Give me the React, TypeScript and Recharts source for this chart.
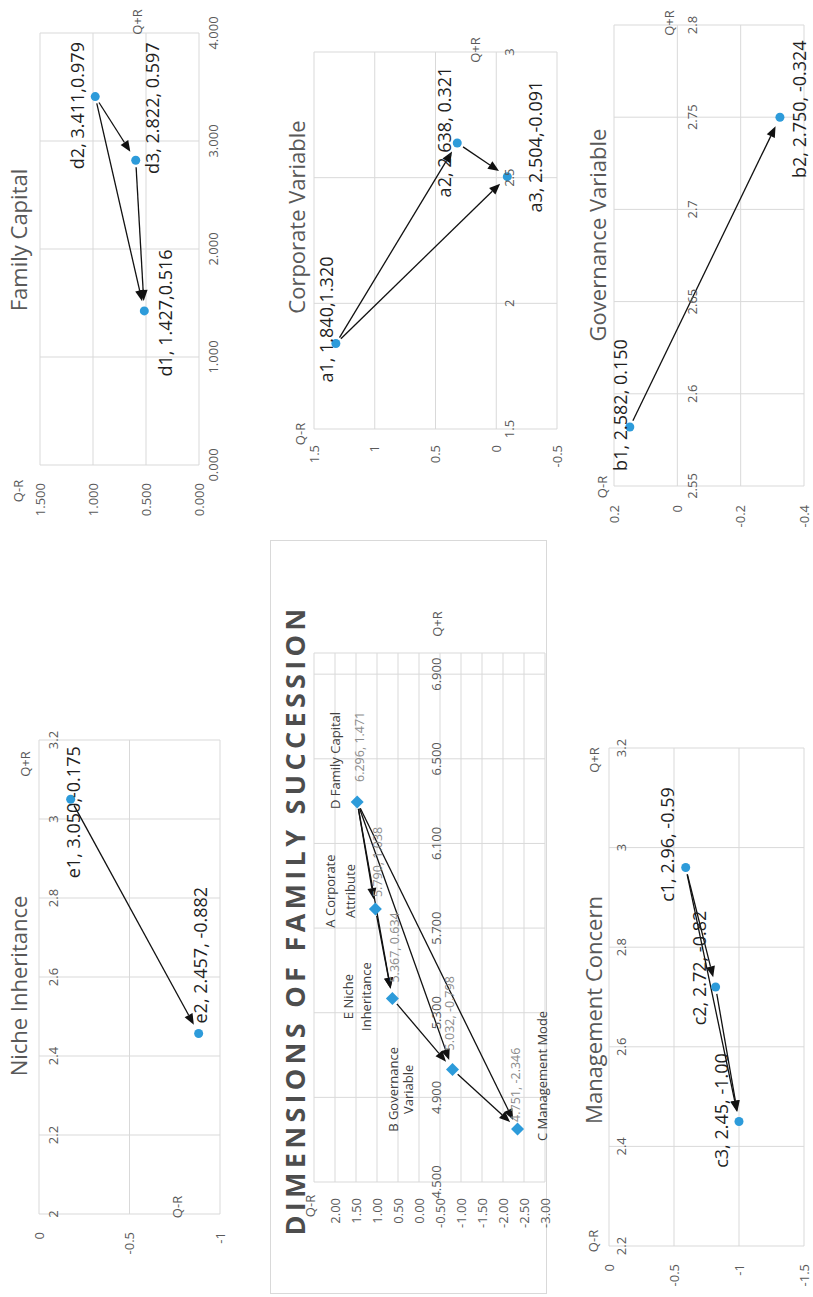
import React from "react";
import { ScatterChart, Scatter, XAxis, YAxis, CartesianGrid, ReferenceLine, ReferenceDot } from "recharts";

const BLUE = "#2D9BDA";
const GRID = "#D9D9D9";
const GREY = "#595959";
const FONT = "'Open Sans', 'Liberation Sans', sans-serif";

// ---- data ----
const nicheNames = ["e1", "e2"];
const nicheQplusR = [3.05, 2.457];
const nicheQminusR = [-0.175, -0.882];
const nicheLabels = ["e1, 3.050,-0.175", "e2, 2.457, -0.882"];
const nicheArrows = [["e1", "e2"]];
const nicheXTicks = [2, 2.2, 2.4, 2.6, 2.8, 3, 3.2];
const nicheYTicks = [-1, -0.5, 0];

const familyNames = ["d1", "d2", "d3"];
const familyQplusR = [1.427, 3.411, 2.822];
const familyQminusR = [0.516, 0.979, 0.597];
const familyLabels = ["d1, 1.427,0.516", "d2, 3.411,0.979", "d3, 2.822, 0.597"];
const familyArrows = [["d2", "d3"], ["d2", "d1"], ["d3", "d1"]];
const familyXTicks = [0, 1, 2, 3, 4];
const familyYTicks = [0, 0.5, 1, 1.5];

const corpNames = ["a1", "a2", "a3"];
const corpQplusR = [1.84, 2.638, 2.504];
const corpQminusR = [1.32, 0.321, -0.091];
const corpLabels = ["a1, 1.840,1.320", "a2, 2.638, 0.321", "a3, 2.504,-0.091"];
const corpArrows = [["a1", "a2"], ["a1", "a3"], ["a2", "a3"]];
const corpXTicks = [1.5, 2, 2.5, 3];
const corpYTicks = [-0.5, 0, 0.5, 1, 1.5];

const govNames = ["b1", "b2"];
const govQplusR = [2.582, 2.75];
const govQminusR = [0.15, -0.324];
const govLabels = ["b1, 2.582, 0.150", "b2, 2.750, -0.324"];
const govArrows = [["b1", "b2"]];
const govXTicks = [2.55, 2.6, 2.65, 2.7, 2.75, 2.8];
const govYTicks = [-0.4, -0.2, 0, 0.2];

const mgmtNames = ["c1", "c2", "c3"];
const mgmtQplusR = [2.96, 2.72, 2.45];
const mgmtQminusR = [-0.59, -0.82, -1.0];
const mgmtLabels = ["c1, 2.96, -0.59", "c2, 2.72, -0.82", "c3, 2.45, -1.00"];
const mgmtArrows = [["c1", "c2"], ["c1", "c3"], ["c2", "c3"]];
const mgmtXTicks = [2.2, 2.4, 2.6, 2.8, 3, 3.2];
const mgmtYTicks = [-1.5, -1, -0.5, 0];

const dimNames = ["D", "A", "E", "B", "C"];
const dimCategories = ["D Family Capital", "A Corporate Attribute", "E Niche Inheritance", "B Governance Variable", "C Management Mode"];
const dimQplusR = [6.296, 5.79, 5.367, 5.032, 4.751];
const dimQminusR = [1.471, 1.038, 0.634, -0.798, -2.346];
const dimLabels = ["6.296, 1.471", "5.790, 1.038", "5.367, 0.634", "5.032, -0.798", "4.751, -2.346"];
const dimArrows = [["D", "A"], ["D", "E"], ["D", "B"], ["D", "C"], ["A", "E"], ["E", "B"], ["B", "C"]];
const dimXTicks = [4.5, 4.9, 5.3, 5.7, 6.1, 6.5, 6.9];
const dimYTicks = [-3, -2.5, -2, -1.5, -1, -0.5, 0, 0.5, 1, 1.5, 2];

type Pt = { name: string; x: number; y: number; label: string; cat?: string };

const toPoints = (names: string[], xs: number[], ys: number[], labels: string[], cats?: string[]): Pt[] =>
  names.map((n, i) => ({ name: n, x: xs[i], y: ys[i], label: labels[i], cat: cats ? cats[i] : undefined }));

// ---- label placement (pixels relative to the point) ----
type Pos = { dx: number; dy: number; anchor: "start" | "middle" | "end" };
const labelPos: Record<string, Pos> = {
  e1: { dx: -13, dy: 2, anchor: "middle" },
  e2: { dx: 10, dy: 1, anchor: "start" },
  d1: { dx: -2, dy: 21, anchor: "middle" },
  d2: { dx: -9, dy: -18, anchor: "middle" },
  d3: { dx: 52, dy: 16, anchor: "middle" },
  a1: { dx: 24, dy: -10, anchor: "middle" },
  a2: { dx: 11, dy: -13, anchor: "middle" },
  a3: { dx: 30, dy: 28, anchor: "middle" },
  b1: { dx: 22, dy: -10, anchor: "middle" },
  b2: { dx: 8, dy: 19, anchor: "middle" },
  c1: { dx: 23, dy: -19, anchor: "middle" },
  c2: { dx: 19, dy: -17, anchor: "middle" },
  c3: { dx: 11, dy: -18, anchor: "middle" },
};

const dimCatPos: Record<string, { lines: string[]; dx: number; dys: number[]; anchor: "start" | "middle" }> = {
  D: { lines: ["D Family Capital"], dx: -7, dys: [-22], anchor: "start" },
  A: { lines: ["A Corporate", "Attribute"], dx: 18, dys: [-45, -25], anchor: "middle" },
  E: { lines: ["E Niche", "Inheritance"], dx: 2, dys: [-44, -26], anchor: "middle" },
  B: { lines: ["B Governance", "Variable"], dx: -20, dys: [-60, -45], anchor: "middle" },
  C: { lines: ["C Management Mode"], dx: 53, dys: [24], anchor: "middle" },
};
const dimValPos: Record<string, { dx: number; dy: number }> = {
  D: { dx: 20, dy: 2 },
  A: { dx: 12, dy: 2 },
  E: { dx: 16, dy: 2 },
  B: { dx: 19, dy: -3 },
  C: { dx: 7, dy: -2 },
};

const fmt = (v: number, d: number | null) => (d == null ? String(v) : v.toFixed(d));

function arrowShape(p: any) {
  const x1 = Number(p.x1), y1 = Number(p.y1), x2 = Number(p.x2), y2 = Number(p.y2);
  const len = Math.hypot(x2 - x1, y2 - y1) || 1;
  const ux = (x2 - x1) / len, uy = (y2 - y1) / len;
  const sx = x1 + ux * 7, sy = y1 + uy * 7;
  const ex = x2 - ux * 10, ey = y2 - uy * 10;
  const bx = ex - ux * 11, by = ey - uy * 11;
  const hw = 4.5;
  return (
    <g>
      <line x1={sx} y1={sy} x2={bx} y2={by} stroke="#111" strokeWidth={1.3} />
      <polygon points={`${ex},${ey} ${bx - uy * hw},${by + ux * hw} ${bx + uy * hw},${by - ux * hw}`} fill="#111" />
    </g>
  );
}

function dotShape(p: any) {
  const pt: Pt = p.payload;
  const pos = labelPos[pt.name];
  return (
    <g>
      <circle cx={p.cx} cy={p.cy} r={4.5} fill={BLUE} />
      <text x={p.cx + pos.dx} y={p.cy + pos.dy} textAnchor={pos.anchor} dominantBaseline="central" fontSize={18} fontFamily={FONT} fill="#1F1F1F">
        {pt.label}
      </text>
    </g>
  );
}

function diamondShape(p: any) {
  const pt: Pt = p.payload;
  const cat = dimCatPos[pt.name];
  const val = dimValPos[pt.name];
  const h = 6.5;
  return (
    <g>
      <polygon points={`${p.cx},${p.cy - h} ${p.cx + h},${p.cy} ${p.cx},${p.cy + h} ${p.cx - h},${p.cy}`} fill={BLUE} />
      {cat.lines.map((ln, i) => (
        <text key={i} x={p.cx + cat.dx} y={p.cy + cat.dys[i]} textAnchor={cat.anchor} dominantBaseline="central" fontSize={13} fontFamily={FONT} fill="#404040">
          {ln}
        </text>
      ))}
      <text x={p.cx + val.dx} y={p.cy + val.dy} dominantBaseline="central" fontSize={12.5} fontFamily={FONT} fill="#8C8C8C">
        {pt.label}
      </text>
    </g>
  );
}

type ChartCfg = {
  points: Pt[];
  arrows: string[][];
  xDomain: [number, number];
  yDomain: [number, number];
  xTicks: number[];
  yTicks: number[];
  xDec: number | null;
  yDec: number | null;
  plot: [number, number, number, number];
  yGap: number;
  xGap: number;
  shape: (p: any) => any;
};

function MiniChart({ c }: { c: ChartCfg }) {
  const PAD = 45;
  const yw = 70;
  const [x0, y0, x1, y1] = c.plot;
  const byName: Record<string, Pt> = {};
  c.points.forEach((p) => (byName[p.name] = p));
  return (
    <div style={{ position: "absolute", left: x0 - yw, top: y0 - PAD }}>
      <ScatterChart width={x1 - x0 + yw + PAD} height={y1 - y0 + 2 * PAD} margin={{ top: PAD, right: PAD, bottom: PAD, left: 0 }}>
        <CartesianGrid stroke={GRID} />
        <XAxis type="number" dataKey="x" domain={c.xDomain} ticks={c.xTicks} interval={0} hide />
        <YAxis
          type="number"
          dataKey="y"
          domain={c.yDomain}
          ticks={c.yTicks}
          interval={0}
          width={yw}
          axisLine={false}
          tickLine={false}
          tickSize={0}
          tickMargin={c.yGap}
          tick={{ fill: GREY, fontSize: 13, fontFamily: FONT }}
          tickFormatter={(v: number) => fmt(v, c.yDec)}
        />
        {c.xTicks.map((t) => (
          <ReferenceDot
            key={"xt" + t}
            x={t}
            y={0}
            r={0}
            fill="none"
            stroke="none"
            ifOverflow="visible"
            label={{ value: fmt(t, c.xDec), position: "bottom", offset: c.xGap, fill: GREY, fontSize: 13, fontFamily: FONT }}
          />
        ))}
        {c.arrows.map(([a, b]) => (
          <ReferenceLine
            key={a + b}
            segment={[
              { x: byName[a].x, y: byName[a].y },
              { x: byName[b].x, y: byName[b].y },
            ]}
            ifOverflow="visible"
            shape={arrowShape}
          />
        ))}
        <Scatter data={c.points} shape={c.shape} isAnimationActive={false} />
      </ScatterChart>
    </div>
  );
}

const charts: ChartCfg[] = [
  {
    points: toPoints(nicheNames, nicheQplusR, nicheQminusR, nicheLabels),
    arrows: nicheArrows, xDomain: [2, 3.2], yDomain: [-1, 0], xTicks: nicheXTicks, yTicks: nicheYTicks,
    xDec: null, yDec: null, plot: [83, 39, 557, 220], yGap: 18, xGap: 10, shape: dotShape,
  },
  {
    points: toPoints(familyNames, familyQplusR, familyQminusR, familyLabels),
    arrows: familyArrows, xDomain: [0, 4], yDomain: [0, 1.5], xTicks: familyXTicks, yTicks: familyYTicks,
    xDec: 3, yDec: 3, plot: [832, 40, 1264, 199], yGap: 18, xGap: 10, shape: dotShape,
  },
  {
    points: toPoints(corpNames, corpQplusR, corpQminusR, corpLabels),
    arrows: corpArrows, xDomain: [1.5, 3], yDomain: [-0.5, 1.5], xTicks: corpXTicks, yTicks: corpYTicks,
    xDec: null, yDec: null, plot: [868, 314, 1245, 557], yGap: 16, xGap: 9, shape: dotShape,
  },
  {
    points: toPoints(dimNames, dimQplusR, dimQminusR, dimLabels, dimCategories),
    arrows: dimArrows, xDomain: [4.5, 7], yDomain: [-3, 2.5], xTicks: dimXTicks, yTicks: dimYTicks,
    xDec: 3, yDec: 2, plot: [115, 314, 644, 545], yGap: 16, xGap: 13, shape: diamondShape,
  },
  {
    points: toPoints(govNames, govQplusR, govQminusR, govLabels),
    arrows: govArrows, xDomain: [2.55, 2.8], yDomain: [-0.4, 0.2], xTicks: govXTicks, yTicks: govYTicks,
    xDec: null, yDec: null, plot: [811, 614, 1272, 804], yGap: 19, xGap: 10, shape: dotShape,
  },
  {
    points: toPoints(mgmtNames, mgmtQplusR, mgmtQminusR, mgmtLabels),
    arrows: mgmtArrows, xDomain: [2.2, 3.2], yDomain: [-1.5, 0], xTicks: mgmtXTicks, yTicks: mgmtYTicks,
    xDec: null, yDec: null, plot: [51, 609, 549, 804], yGap: 18, xGap: 8, shape: dotShape,
  },
];

// titles and axis names: [text, centre x, centre y, size]
const captions: [string, number, number, number][] = [
  ["Niche Inheritance", 311, 18, 22],
  ["Q+R", 533, 25, 13],
  ["Q-R", 90, 177, 13],
  ["Family Capital", 1057, 18, 22],
  ["Q-R", 806, 18, 13],
  ["Q+R", 1275, 137, 13],
  ["Corporate Variable", 1080, 296, 22],
  ["Q-R", 863, 300, 13],
  ["Q+R", 1247, 475, 13],
  ["Q-R", 91, 310, 13],
  ["Q+R", 673, 437, 13],
  ["Governance Variable", 1062, 597, 22],
  ["Q-R", 810, 602, 13],
  ["Q+R", 1274, 669, 13],
  ["Management Concern", 287, 593, 22],
  ["Q-R", 56, 593, 13],
  ["Q+R", 537, 594, 13],
];

export default function App() {
  return (
    <div
      style={{
        position: "absolute",
        left: 0,
        top: 0,
        width: 1297,
        height: 813,
        background: "#fff",
        fontFamily: FONT,
        transformOrigin: "0 0",
        transform: "translate(0px, 1297px) rotate(-90deg)",
      }}
    >
      <div style={{ position: "absolute", left: 3, top: 270, width: 752, height: 275, border: "1px solid #D9D9D9" }} />
      <div
        style={{
          position: "absolute", left: 377, top: 294, transform: "translate(-50%, -50%)", whiteSpace: "nowrap",
          fontSize: 27, fontWeight: 700, letterSpacing: 4.3, color: "#4D4D4D", lineHeight: 1,
        }}
      >
        DIMENSIONS OF FAMILY SUCCESSION
      </div>
      {charts.map((c, i) => (
        <MiniChart key={i} c={c} />
      ))}
      {captions.map(([t, x, y, s], i) => (
        <div
          key={i}
          style={{ position: "absolute", left: x, top: y, transform: "translate(-50%, -50%)", whiteSpace: "nowrap", fontSize: s, color: GREY, lineHeight: 1 }}
        >
          {t}
        </div>
      ))}
    </div>
  );
}
